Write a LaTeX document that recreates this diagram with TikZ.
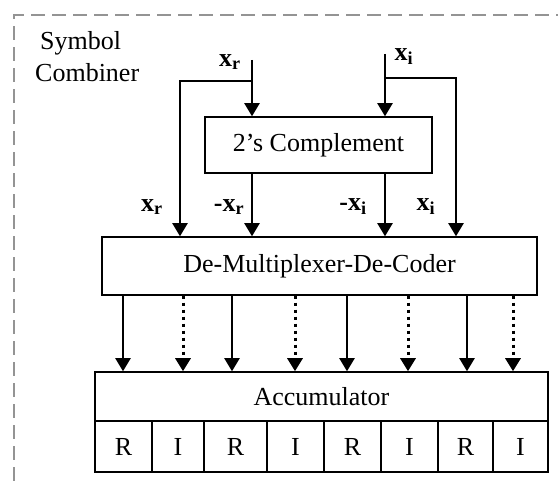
\documentclass[tikz,border=0pt]{standalone}
\usepackage{fontspec}
\setmainfont{Liberation Serif}
\usetikzlibrary{arrows.meta}
\begin{document}
\begin{tikzpicture}[x=1pt,y=-1pt,
  txt/.style={font=\fontsize{26}{30}\selectfont},
  box/.style={txt,draw,line width=1.5pt,inner sep=0pt},
  wire/.style={line width=2pt,line join=miter},
  arr/.style={wire,-{Triangle[length=13pt,width=15pt]}},
  dotarr/.style={arr,line width=3pt,dash pattern=on 3.5pt off 3.5pt},
  lbl/.style={font=\fontsize{26}{30}\selectfont\bfseries,inner sep=0pt}]
\useasboundingbox (0,0) rectangle (558,481);

% dashed frame of the symbol combiner
\draw[black!42,line width=1.5pt,dash pattern=on 14pt off 7pt] (14,481) -- (14,15) -- (558,15);
\node[txt,anchor=base west,inner sep=0pt] (sym) at (40,50) {Symbol};
\node[txt,anchor=base west,inner sep=0pt] (comb) at (35,82) {Combiner};

% blocks
\node[box,minimum width=227,minimum height=56] (comp) at (318.5,145) {2’s Complement};
\node[box,minimum width=435,minimum height=58] (demux) at (319.5,266) {De-Multiplexer-De-Coder};
\node[box,minimum width=453,minimum height=49] (acc) at (321.5,396.5) {Accumulator};
\foreach \a/\b/\t [count=\i] in {95/152/R,152/204/I,204/267/R,267/324/I,324/381/R,381/438/I,438/493/R,493/548/I}
  \node[box,minimum width=\b-\a,minimum height=51] (c\i) at ({(\a+\b)/2},446.5) {\t};

% inputs and their bypass branches
\coordinate (xrtop) at (252,60);
\coordinate (xrbr) at (252,81);
\coordinate (xrl) at (180,81);
\coordinate (xitop) at (385,54);
\coordinate (xibr) at (385,78);
\coordinate (xir) at (456,78);
\draw[arr] (xrtop) -- (xrtop |- comp.north);
\draw[arr] (xrbr) -- (xrl) -- (xrl |- demux.north);
\draw[arr] (xitop) -- (xitop |- comp.north);
\draw[arr] (xibr) -- (xir) -- (xir |- demux.north);
\draw[arr] (comp.south -| xrtop) -- (demux.north -| xrtop);
\draw[arr] (comp.south -| xitop) -- (demux.north -| xitop);

% signal labels
\node[lbl] (lxr) at (230,62) {x\textsubscript{r}};
\node[lbl] (lxi) at (404,57) {x\textsubscript{i}};
\node[lbl] (oxr) at (152,207) {x\textsubscript{r}};
\node[lbl] (onr) at (229,207) {-x\textsubscript{r}};
\node[lbl] (oni) at (353,207) {-x\textsubscript{i}};
\node[lbl] (oxi) at (426,207) {x\textsubscript{i}};

% decoder outputs into the accumulator
\foreach \x/\s [count=\i] in {123/arr,183/dotarr,232/arr,295/dotarr,347/arr,408/dotarr,467/arr,513/dotarr}{
  \coordinate (t\i) at (\x,0);
  \draw[\s] (demux.south -| t\i) -- (acc.north -| t\i);
}
\end{tikzpicture}
\end{document}
